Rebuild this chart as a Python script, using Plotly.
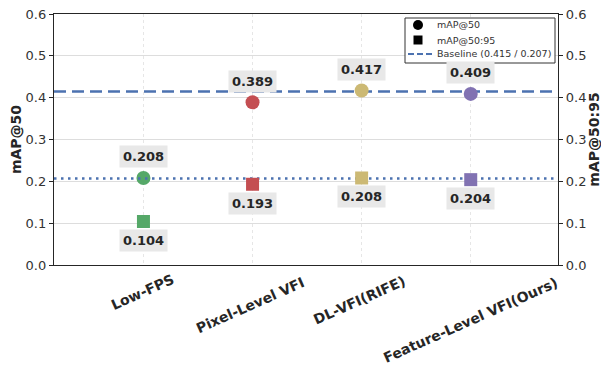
import plotly.graph_objects as go

categories = ["Low-FPS", "Pixel-Level VFI", "DL-VFI(RIFE)", "Feature-Level VFI(Ours)"]
map50 = [0.208, 0.389, 0.417, 0.409]
map5095 = [0.104, 0.193, 0.208, 0.204]
colors = ["#55a868", "#c44e52", "#ccb974", "#8172b2"]
baseline50 = 0.415
baseline5095 = 0.207
yticks = [0.0, 0.1, 0.2, 0.3, 0.4, 0.5, 0.6]
legend_labels = ["mAP@50", "mAP@50:95", "Baseline (0.415 / 0.207)"]

FONT = "DejaVu Sans"
OFF = 8  # page body margin
W, H = 609 - OFF, 371 - OFF
L, T = 54 - OFF, 14 - OFF
PW, PH = 504, 251
R, B = W - L - PW, H - T - PH
XR = [-0.82, 3.80]
xs = list(range(len(categories)))


def px(xp):
    return (xp - OFF - L) / PW


def py(yp):
    return (T + PH - (yp - OFF)) / PH


fig = go.Figure()

fig.add_trace(go.Scatter(x=XR, y=[baseline50, baseline50], mode="lines",
                         line=dict(color="#4c72b0", width=2.5, dash="12px,6px"),
                         showlegend=False, hoverinfo="skip"))
fig.add_trace(go.Scatter(x=XR, y=[baseline5095, baseline5095], mode="lines",
                         line=dict(color="#4c72b0", width=2.5, dash="2.5px,4.5px"),
                         showlegend=False, yaxis="y2", hoverinfo="skip"))

fig.add_trace(go.Scatter(x=xs, y=map50, mode="markers",
                         marker=dict(symbol="circle", size=14, color=colors),
                         showlegend=False))
fig.add_trace(go.Scatter(x=xs, y=map5095, mode="markers", yaxis="y2",
                         marker=dict(symbol="square", size=13, color=colors),
                         showlegend=False))

annotations = []
for i, v in enumerate(map50):
    annotations.append(dict(x=i, y=v, xref="x", yref="y", text="<b>%.3f</b>" % v,
                            showarrow=False, yshift=21, bgcolor="#e8e8e8",
                            borderpad=3, font=dict(family=FONT, size=13, color="#262626")))
for i, v in enumerate(map5095):
    annotations.append(dict(x=i, y=v, xref="x", yref="y2", text="<b>%.3f</b>" % v,
                            showarrow=False, yshift=-19, bgcolor="#e8e8e8",
                            borderpad=3, font=dict(family=FONT, size=13, color="#262626")))

# rotated category labels (centre offsets in px from tick / axis)
label_shift = [(-1, -27), (-2, -40), (-2, -35), (0, -55)]
for i, c in enumerate(categories):
    dx, dy = label_shift[i]
    annotations.append(dict(x=i, y=0, xref="x", yref="paper", text="<b>%s</b>" % c,
                            showarrow=False, textangle=-24, xshift=dx, yshift=dy,
                            xanchor="center", yanchor="middle",
                            font=dict(family=FONT, size=14, color="#262626")))

# custom legend
shapes = [
    dict(type="rect", xref="paper", yref="paper", x0=px(405), x1=px(555), y0=py(63), y1=py(18),
         line=dict(color="#333333", width=1), fillcolor="rgba(255,255,255,0.9)", layer="above"),
    dict(type="circle", xref="paper", yref="paper", x0=px(413), x1=px(423), y0=py(30), y1=py(20),
         line=dict(width=0), fillcolor="black", layer="above"),
    dict(type="rect", xref="paper", yref="paper", x0=px(413.5), x1=px(422.5), y0=py(44.5), y1=py(35.5),
         line=dict(width=0), fillcolor="black", layer="above"),
    dict(type="line", xref="paper", yref="paper", x0=px(408), x1=px(432), y0=py(54), y1=py(54),
         line=dict(color="#4c72b0", width=2, dash="6px,3px"), layer="above"),
]
for k, (lab, yy) in enumerate(zip(legend_labels, [25, 40, 54])):
    annotations.append(dict(x=px(435), y=py(yy), xref="paper", yref="paper", text=lab,
                            showarrow=False, xanchor="left", yanchor="middle",
                            font=dict(family=FONT, size=9.5, color="#333333")))

fig.update_layout(
    width=W, height=H,
    margin=dict(l=L, r=R, t=T, b=B),
    paper_bgcolor="white", plot_bgcolor="white",
    font=dict(family=FONT, color="#262626"),
    annotations=annotations, shapes=shapes,
    xaxis=dict(range=XR, tickmode="array", tickvals=xs, showticklabels=False,
               showgrid=True, gridcolor="#e6e6e6", griddash="dot", gridwidth=1,
               showline=True, linecolor="#262626", linewidth=1.3, mirror=True,
               ticks="", zeroline=False, automargin=False),
    yaxis=dict(range=[0, 0.6], tickvals=yticks, ticktext=["%.1f" % t for t in yticks],
               tickfont=dict(size=13, color="#333333"), ticklabeloverflow="allow",
               title=dict(text="<b>mAP@50</b>", font=dict(size=14, color="#262626"), standoff=0),
               showgrid=True, gridcolor="#dddddd", gridwidth=1,
               showline=True, linecolor="#262626", linewidth=1.3,
               ticks="outside", ticklen=4, tickcolor="#262626", zeroline=False, automargin=False),
    yaxis2=dict(range=[0, 0.6], tickvals=yticks, ticktext=["%.1f" % t for t in yticks],
                overlaying="y", side="right", ticklabeloverflow="allow",
                tickfont=dict(size=13, color="#333333"),
                title=dict(text="<b>mAP@50:95</b>", font=dict(size=14, color="#262626"), standoff=2),
                showgrid=False, showline=True, linecolor="#262626", linewidth=1.3,
                ticks="outside", ticklen=4, tickcolor="#262626", zeroline=False, automargin=False),
    showlegend=False,
)

fig.write_html("out.html")
